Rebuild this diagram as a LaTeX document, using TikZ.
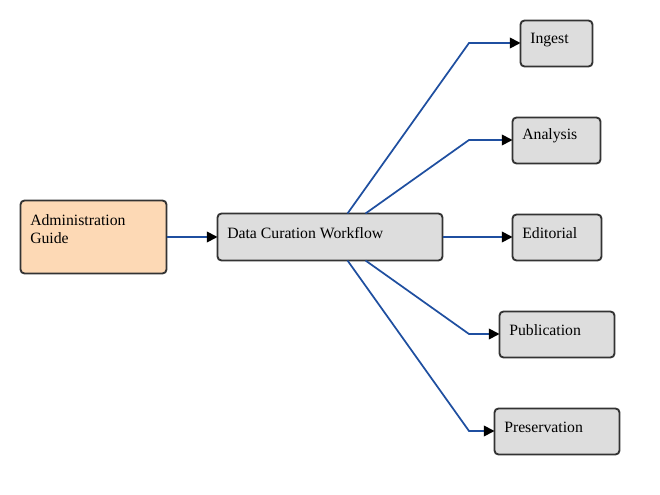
\documentclass[tikz,border=0pt]{standalone}
\usepackage{fontspec}
\setmainfont{Liberation Serif}
\usetikzlibrary{arrows.meta,calc}
\definecolor{edgeblue}{HTML}{1F4FA0}
\definecolor{boxgray}{HTML}{DDDDDD}
\definecolor{peach}{HTML}{FDD9B5}
\definecolor{border}{HTML}{333333}
\tikzset{
  box/.style={draw=border, line width=1.4pt, rounded corners=3pt, fill=boxgray, inner sep=0pt, outer sep=0pt},
  lbl/.style={anchor=west, inner sep=0pt, font=\fontsize{11.8pt}{13.5pt}\selectfont, align=left},
  conn/.style={draw=edgeblue, line width=1.3pt, -{Triangle[length=8pt,width=8pt,fill=black,color=black]}},
}
\begin{document}
\begin{tikzpicture}[x=0.75pt,y=-0.75pt]
\useasboundingbox (0,0) rectangle (660,495);
% boxes
\node[box, fill=peach, minimum width=146*0.75pt, minimum height=73*0.75pt, anchor=north west] (admin) at (20.5,200.5) {};
\node[box, minimum width=225*0.75pt, minimum height=47*0.75pt, anchor=north west] (dcw) at (217.5,213.5) {};
\node[box, minimum width=72*0.75pt, minimum height=46*0.75pt, anchor=north west] (ingest) at (520.5,20.5) {};
\node[box, minimum width=88*0.75pt, minimum height=46*0.75pt, anchor=north west] (analysis) at (512.5,117.5) {};
\node[box, minimum width=89*0.75pt, minimum height=46*0.75pt, anchor=north west] (editorial) at (512.5,214.5) {};
\node[box, minimum width=115*0.75pt, minimum height=46*0.75pt, anchor=north west] (publication) at (499.5,311.5) {};
\node[box, minimum width=125*0.75pt, minimum height=46*0.75pt, anchor=north west] (preservation) at (494.5,408.5) {};
% labels
\node[lbl] (tadmin) at (30,229) {Administration\\Guide};
\node[lbl] (tdcw) at (227,233) {Data Curation Workflow};
\node[lbl] (tingest) at (530,40) {Ingest};
\node[lbl] (tanalysis) at (522,136) {Analysis};
\node[lbl] (teditorial) at (522,233) {Editorial};
\node[lbl] (tpublication) at (509,330) {Publication};
\node[lbl] (tpreservation) at (504,427) {Preservation};
% connector anchor points
\coordinate (s1) at ($(dcw.north west)+(130,0)$);
\coordinate (s2) at ($(dcw.north west)+(148,0)$);
\coordinate (s4) at ($(dcw.south west)+(148,0)$);
\coordinate (s5) at ($(dcw.south west)+(130,0)$);
\coordinate (b1) at (469,43);
\coordinate (b2) at (469,140);
\coordinate (b4) at (469,334);
\coordinate (b5) at (469,431);
% connectors
\draw[conn] (admin.east |- 0,237) -- (dcw.west |- 0,237);
\draw[conn] (s1) -- (b1) -- (ingest.west |- b1);
\draw[conn] (s2) -- (b2) -- (analysis.west |- b2);
\draw[conn] (dcw.east |- 0,237) -- (editorial.west |- 0,237);
\draw[conn] (s4) -- (b4) -- (publication.west |- b4);
\draw[conn] (s5) -- (b5) -- (preservation.west |- b5);
\end{tikzpicture}
\end{document}
